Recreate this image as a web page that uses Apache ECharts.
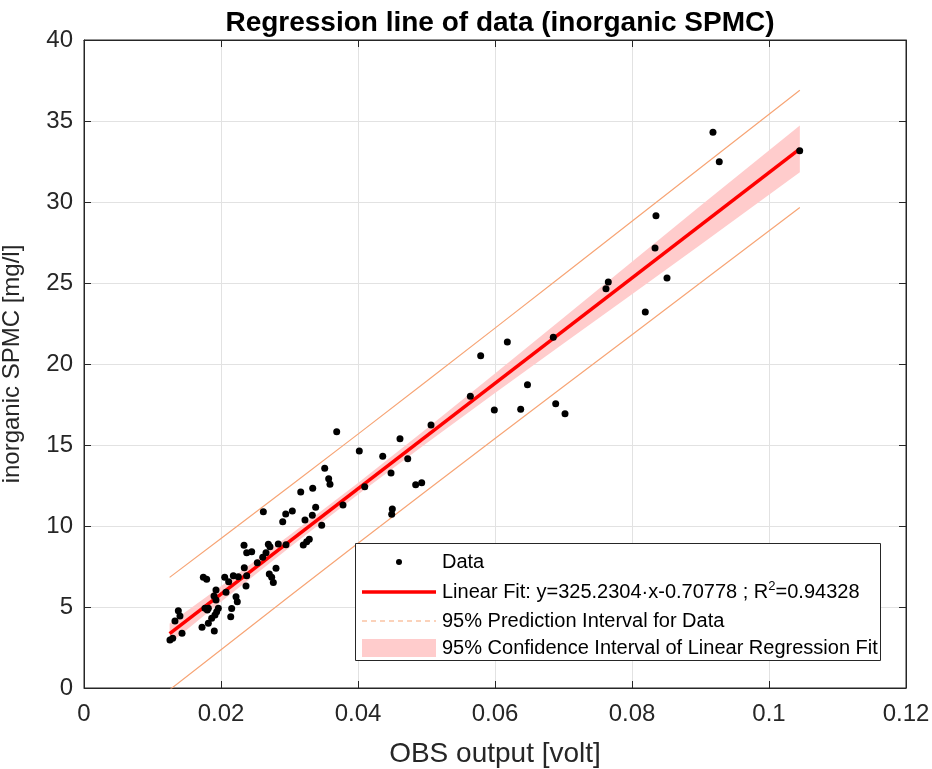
<!DOCTYPE html>
<html>
<head>
<meta charset="utf-8">
<script src="https://cdn.jsdelivr.net/npm/echarts@6/dist/echarts.min.js"></script>
<style>
  html, body { margin: 0; padding: 0; background: #fff; }
  #main { width: 932px; height: 769px; }
</style>
</head>
<body>
<div id="main"></div>
<script>
// measured points: OBS output [volt] vs inorganic SPMC [mg/l]
const obsX = [
  0.01255, 0.01295, 0.01328, 0.01377, 0.01401, 0.01431, 0.01723, 0.01742, 0.01791, 0.01766,
  0.0180, 0.01815, 0.01815, 0.01864, 0.01902, 0.01912, 0.01937, 0.01961, 0.01898, 0.01927,
  0.01927, 0.02054, 0.02112, 0.02073, 0.02156, 0.02142, 0.0218, 0.02253, 0.02219, 0.02238,
  0.02336, 0.02375, 0.02448, 0.0234, 0.02375, 0.02365, 0.0253, 0.02609, 0.02657, 0.02691,
  0.02715, 0.02618, 0.02705, 0.0274, 0.02764, 0.02803, 0.02836, 0.02949, 0.02901, 0.02945,
  0.03041, 0.03164, 0.03201, 0.03251, 0.03289, 0.03226, 0.03339, 0.03333, 0.03382, 0.0347,
  0.03514, 0.03572, 0.03591, 0.03689, 0.03781, 0.04019, 0.04098, 0.04361, 0.04482, 0.04501,
  0.04492, 0.04613, 0.04726, 0.04842, 0.0493, 0.05066, 0.0564, 0.05791, 0.0599, 0.0618,
  0.06375, 0.06474, 0.06851, 0.06886, 0.07022, 0.0762, 0.07654, 0.08194, 0.08336, 0.0835,
  0.08511, 0.09182, 0.09274, 0.10448
];
const spmcY = [
  2.96, 3.07, 4.14, 4.77, 4.44, 3.38, 3.75, 6.83, 6.71, 4.92,
  4.81, 4.92, 3.99, 4.30, 3.52, 4.51, 4.71, 4.92, 5.68, 5.43,
  6.05, 6.83, 6.56, 5.91, 4.90, 4.40, 6.93, 6.87, 5.64, 5.33,
  8.81, 8.35, 8.41, 7.43, 6.93, 6.30, 7.73, 8.07, 8.35, 8.87,
  8.72, 10.88, 7.04, 6.83, 6.52, 7.39, 8.89, 8.85, 10.27, 10.74,
  10.93, 12.10, 8.83, 9.03, 9.18, 10.37, 12.33, 10.66, 11.15, 10.04,
  13.56, 12.92, 12.57, 15.82, 11.30, 14.63, 12.43, 14.30, 13.27, 11.05,
  10.72, 15.39, 14.15, 12.55, 12.67, 16.23, 18.01, 20.51, 17.16, 21.36,
  17.20, 18.72, 21.65, 17.55, 16.93, 24.65, 25.06, 23.21, 27.16, 29.15,
  25.31, 34.30, 32.49, 33.17
];

// fit from the legend
const slope = 325.2304;
const intercept = -0.70778;
const rSquared = 0.94328;

// half widths of the bands
const bandX = [0.0125, 0.02, 0.03, 0.04, 0.05, 0.06, 0.07, 0.08, 0.09, 0.1045];
const ciHalf = [0.62, 0.48, 0.38, 0.36, 0.45, 0.6, 0.8, 1.0, 1.2, 1.45];
const piHalf = [3.47, 3.43, 3.39, 3.37, 3.38, 3.41, 3.45, 3.5, 3.55, 3.62];

const fit = x => slope * x + intercept;
const fontFamily = "'Liberation Sans', Arial, sans-serif";
const ink = '#262626';
const piColor = '#f7a576';
const ciColor = '#ffcccc';

const points = obsX.map((x, i) => [x, spmcY[i]]);
const fitLine = [bandX[0], bandX[bandX.length - 1]].map(x => [x, fit(x)]);
const piUpper = bandX.map((x, i) => [x, fit(x) + piHalf[i]]);
const piLower = bandX.map((x, i) => [x, fit(x) - piHalf[i]]);
const ciPoly = bandX.map((x, i) => [x, fit(x) + ciHalf[i]])
  .concat(bandX.map((x, i) => [x, fit(x) - ciHalf[i]]).reverse());

const myChart = echarts.init(document.getElementById('main'));

const axisCommon = {
  axisLine: { show: true, onZero: false, lineStyle: { color: ink, width: 1 } },
  axisTick: { show: true, inside: true, length: 7, lineStyle: { color: ink } },
};

const legendTop = 543;
const rowY = [562, 592, 621, 648];
const textStyle = { fontFamily: fontFamily, fontSize: 20, fill: '#000', verticalAlign: 'middle' };

const option = {
  backgroundColor: '#fff',
  animation: false,
  title: {
    text: 'Regression line of data (inorganic SPMC)',
    left: 495,
    top: 4,
    textAlign: 'center',
    textStyle: { fontFamily: fontFamily, fontSize: 28, fontWeight: 'bold', color: '#000' }
  },
  grid: {
    left: 84, right: 26, top: 40, bottom: 81,
    outerBoundsMode: 'none', containLabel: false,
    show: true, borderColor: ink, borderWidth: 1
  },
  xAxis: [
    Object.assign({
      type: 'value', min: 0, max: 0.12, interval: 0.02,
      name: 'OBS output [volt]', nameLocation: 'middle', nameGap: 52,
      nameTextStyle: { fontFamily: fontFamily, fontSize: 28, color: ink },
      axisLabel: {
        margin: 14, fontFamily: fontFamily, fontSize: 24, color: ink,
        formatter: v => String(+v.toFixed(2))
      },
      splitLine: { show: true, lineStyle: { color: '#e2e2e2', width: 1 } }
    }, axisCommon),
    Object.assign({
      type: 'value', min: 0, max: 0.12, interval: 0.02, position: 'top',
      axisLabel: { show: false }, splitLine: { show: false }
    }, axisCommon)
  ],
  yAxis: [
    Object.assign({
      type: 'value', min: 0, max: 40, interval: 5,
      name: 'inorganic SPMC [mg/l]', nameLocation: 'middle', nameGap: 60,
      nameTextStyle: { fontFamily: fontFamily, fontSize: 24, color: ink },
      axisLabel: { margin: 11, fontFamily: fontFamily, fontSize: 24, color: ink },
      splitLine: { show: true, lineStyle: { color: '#e2e2e2', width: 1 } }
    }, axisCommon),
    Object.assign({
      type: 'value', min: 0, max: 40, interval: 5, position: 'right',
      axisLabel: { show: false }, splitLine: { show: false }
    }, axisCommon)
  ],
  series: [
    {
      name: '95% Confidence Interval of Linear Regression Fit',
      type: 'custom',
      silent: true,
      z: 1,
      data: ciPoly,
      renderItem: function (params, api) {
        if (params.dataIndex !== 0) return null;
        return {
          type: 'polygon',
          shape: { points: ciPoly.map(p => api.coord(p)) },
          style: { fill: ciColor }
        };
      }
    },
    {
      name: '95% Prediction Interval for Data',
      type: 'line', data: piUpper, showSymbol: false, z: 2,
      lineStyle: { color: piColor, width: 1.2 }
    },
    {
      name: '95% Prediction Interval for Data',
      type: 'line', data: piLower, showSymbol: false, z: 2,
      lineStyle: { color: piColor, width: 1.2 }
    },
    {
      name: 'Linear Fit',
      type: 'line', data: fitLine, showSymbol: false, z: 3,
      lineStyle: { color: '#ff0000', width: 3.5 }
    },
    {
      name: 'Data',
      type: 'scatter', data: points, symbolSize: 7, z: 4,
      itemStyle: { color: '#000', opacity: 1 }
    }
  ],
  graphic: [
    {
      type: 'rect', z: 100,
      shape: { x: 355.5, y: legendTop + 0.5, width: 525, height: 117 },
      style: { fill: '#fff', stroke: ink, lineWidth: 1 }
    },
    { type: 'circle', z: 101, shape: { cx: 399, cy: rowY[0], r: 3 }, style: { fill: '#000' } },
    {
      type: 'line', z: 101, shape: { x1: 362, y1: rowY[1], x2: 436, y2: rowY[1] },
      style: { stroke: '#ff0000', lineWidth: 3.5 }
    },
    {
      type: 'line', z: 101, shape: { x1: 362, y1: rowY[2], x2: 436, y2: rowY[2] },
      style: { stroke: piColor, lineWidth: 1.2, lineDash: [5, 4] }
    },
    {
      type: 'rect', z: 101, shape: { x: 362, y: rowY[3] - 9, width: 74, height: 18 },
      style: { fill: ciColor }
    },
    { type: 'text', z: 101, x: 442, y: rowY[0], style: Object.assign({ text: 'Data' }, textStyle) },
    {
      type: 'text', z: 101, x: 442, y: rowY[1],
      style: Object.assign({
        text: 'Linear Fit: y=' + slope.toFixed(4) + '·x' + intercept.toFixed(5) + ' ; R{sup|2}=' + rSquared.toFixed(5),
        rich: { sup: { fontFamily: fontFamily, fontSize: 13, fill: '#000', padding: [0, 0, 12, 0] } }
      }, textStyle)
    },
    { type: 'text', z: 101, x: 442, y: rowY[2], style: Object.assign({ text: '95% Prediction Interval for Data' }, textStyle) },
    { type: 'text', z: 101, x: 442, y: rowY[3], style: Object.assign({ text: '95% Confidence Interval of Linear Regression Fit' }, textStyle) }
  ]
};

myChart.setOption(option);
</script>
</body>
</html>
